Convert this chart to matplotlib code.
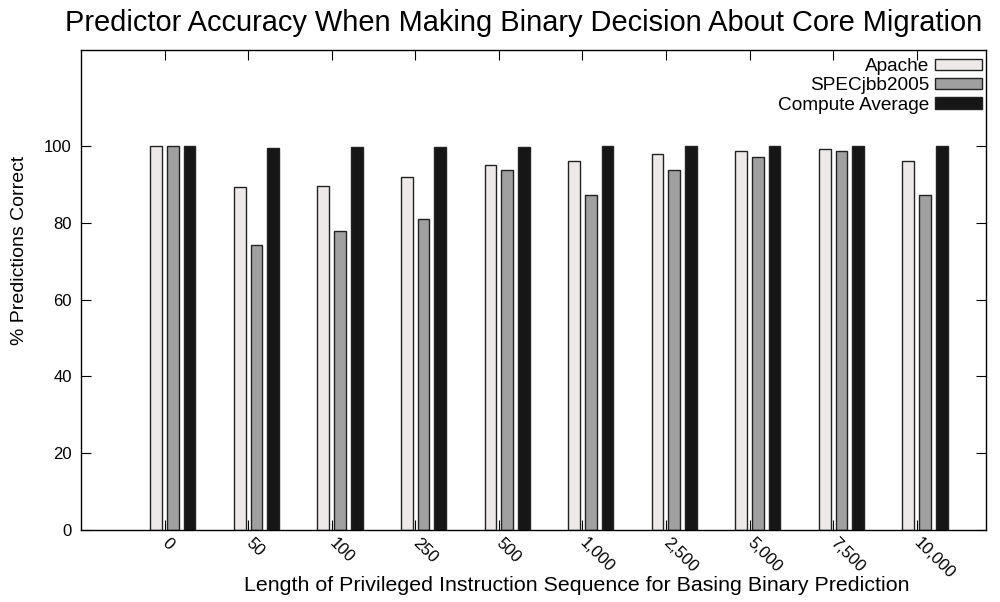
import numpy as np
import matplotlib
matplotlib.use('Agg')
import matplotlib.pyplot as plt

plt.rcParams['font.family'] = ['Liberation Sans', 'DejaVu Sans']

lengths = ['0', '50', '100', '250', '500', '1,000', '2,500', '5,000', '7,500', '10,000']
apache = [100, 89.2, 89.6, 91.8, 95.0, 96.0, 98.0, 98.8, 99.3, 96.0]
specjbb = [100, 74.2, 77.9, 81.0, 93.7, 87.2, 93.7, 97.1, 98.7, 87.2]
compute_avg = [100, 99.5, 99.7, 99.8, 99.8, 99.9, 100, 100, 100, 100]

series = [('Apache', apache, '#ede9e9'),
          ('SPECjbb2005', specjbb, '#a0a0a0'),
          ('Compute Average', compute_avg, '#161616')]

fig = plt.figure(figsize=(10, 6.02), dpi=100)
ax = fig.add_axes([0.081, 0.1196, 0.905, 0.7974])

x = np.arange(len(lengths))
offsets = [-0.1, 0.1, 0.3]
for (name, vals, col), off in zip(series, offsets):
    ax.bar(x + off, vals, width=0.14, color=col, edgecolor='#222222',
           linewidth=1.0, label=name)

ax.set_xlim(-1, 9.83)
ax.set_ylim(0, 125)
ax.set_yticks([0, 20, 40, 60, 80, 100])
ax.set_xticks(x)
ax.set_xticklabels(lengths, rotation=-45, ha='left', va='center',
                   rotation_mode='anchor')
ax.tick_params(direction='in', length=7, width=0.8, top=True, right=True,
               labelsize=12, colors='black')
ax.tick_params(axis='x', pad=7.5)
ax.tick_params(axis='y', pad=6.5)
for s in ax.spines.values():
    s.set_linewidth(1.0)

ax.set_xlabel('Length of Privileged Instruction Sequence for Basing Binary Prediction',
              fontsize=15.4)
ax.xaxis.set_label_coords(0.5475, -0.095)
ax.set_ylabel('% Predictions Correct', fontsize=14, va='center')
ax.yaxis.set_label_coords(-0.068, 0.583)
fig.text(0.524, 0.961, 'Predictor Accuracy When Making Binary Decision About Core Migration',
         fontsize=20.9, ha='center', va='center')

ax.legend(loc='upper right', bbox_to_anchor=(0.9956, 0.983), markerfirst=False,
          frameon=False, fontsize=13.7, handlelength=2.47, handleheight=0.55,
          handletextpad=0.3, labelspacing=0.12, borderaxespad=0, borderpad=0)

fig.savefig('out.png', dpi=100)
